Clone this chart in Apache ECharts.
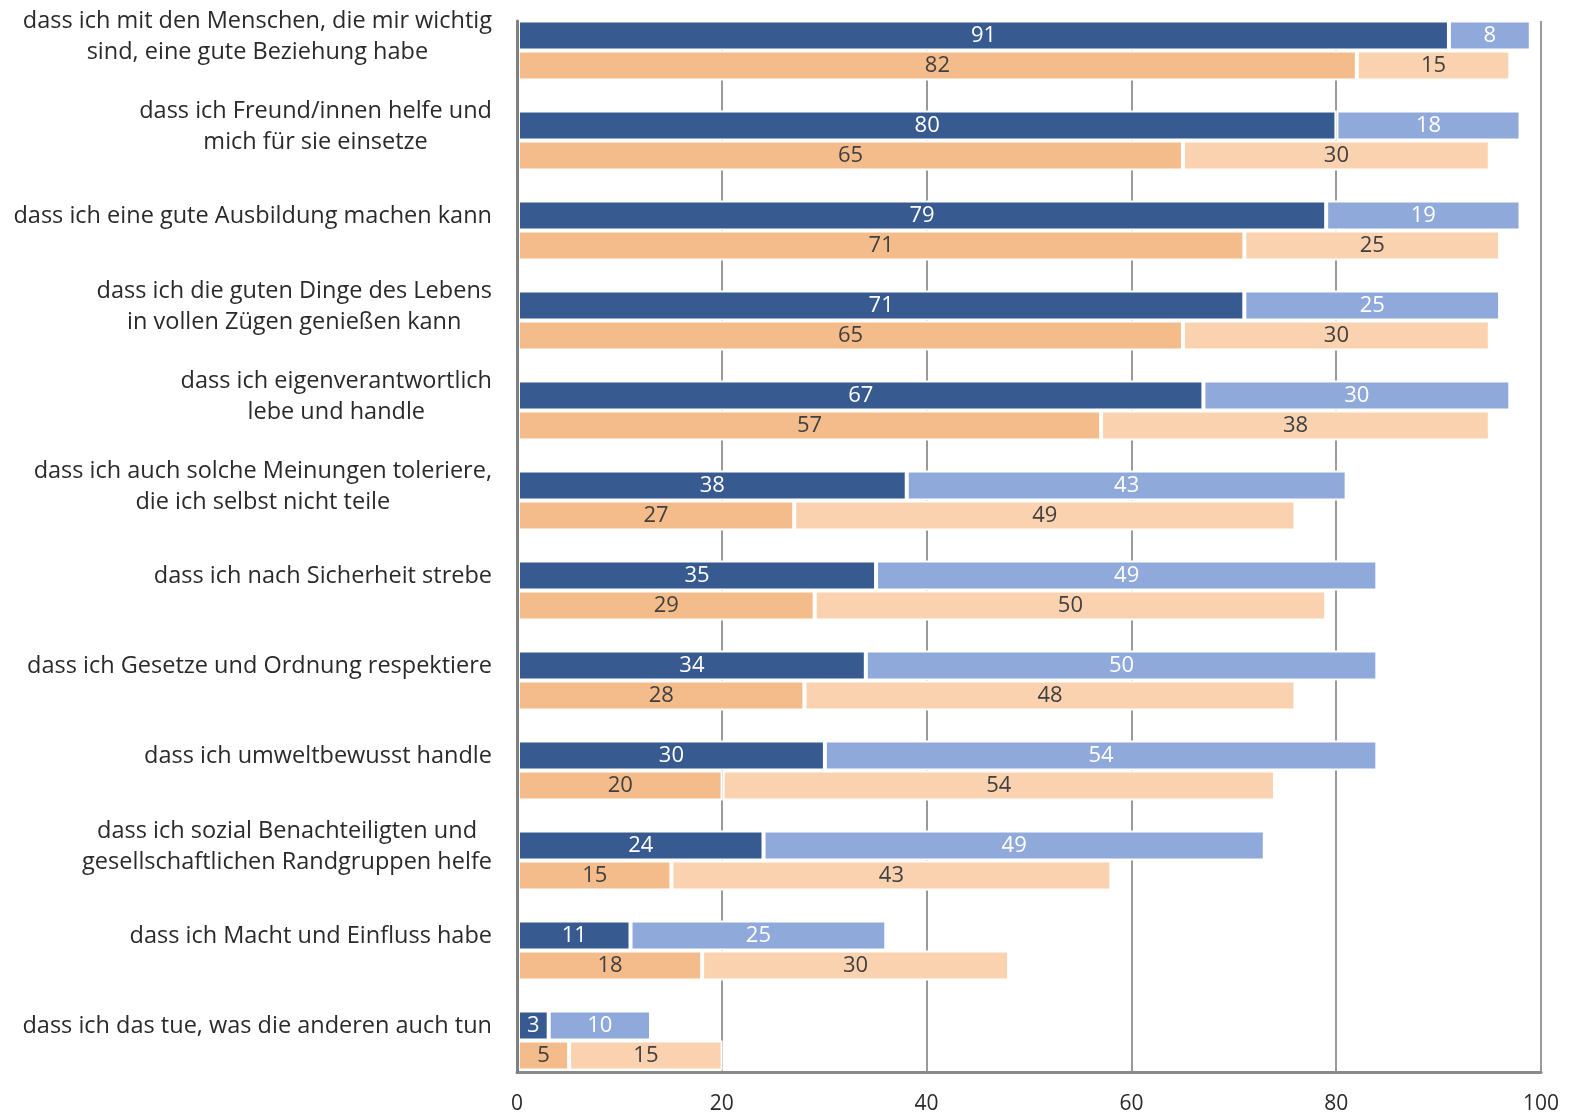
<!DOCTYPE html>
<html>
<head>
<meta charset="utf-8">
<script src="https://cdn.jsdelivr.net/npm/echarts@6/dist/echarts.min.js"></script>
<style>
html,body{margin:0;padding:0;background:#fff;}
#chart{width:1573px;height:1115px;}
</style>
</head>
<body>
<div id="chart"></div>
<script>
var categories = [
  "dass ich mit den Menschen, die mir wichtig\nsind, eine gute Beziehung habe",
  "dass ich Freund/innen helfe und\nmich für sie einsetze",
  "dass ich eine gute Ausbildung machen kann",
  "dass ich die guten Dinge des Lebens\nin vollen Zügen genießen kann",
  "dass ich eigenverantwortlich\nlebe und handle",
  "dass ich auch solche Meinungen toleriere,\ndie ich selbst nicht teile",
  "dass ich nach Sicherheit strebe",
  "dass ich Gesetze und Ordnung respektiere",
  "dass ich umweltbewusst handle",
  "dass ich sozial Benachteiligten und\ngesellschaftlichen Randgruppen helfe",
  "dass ich Macht und Einfluss habe",
  "dass ich das tue, was die anderen auch tun"
];
var blueDark    = [91, 80, 79, 71, 67, 38, 35, 34, 30, 24, 11, 3];
var blueLight   = [8, 18, 19, 25, 30, 43, 49, 50, 54, 49, 25, 10];
var orangeDark  = [82, 65, 71, 65, 57, 27, 29, 28, 20, 15, 18, 5];
var orangeLight = [15, 30, 25, 30, 38, 49, 50, 48, 54, 43, 30, 15];
var xTicks = [0, 20, 40, 60, 80, 100];

var FONT = '"Open Sans", "Noto Sans", sans-serif';
var chart = echarts.init(document.getElementById('chart'));

function barSeries(name, data, stack, color, labelColor) {
  return {
    name: name, type: 'bar', stack: stack,
    xAxisIndex: 0, yAxisIndex: 0,
    data: data,
    barWidth: 30, barGap: '0%',
    itemStyle: { color: color, borderColor: '#ffffff', borderWidth: 2 },
    label: {
      show: true, position: 'inside', color: labelColor,
      fontFamily: FONT, fontSize: 22
    },
    emphasis: { disabled: true },
    z: 2
  };
}

chart.setOption({
  animation: false,
  backgroundColor: '#ffffff',
  grid: [
    { left: 518, right: 32, top: 5.5, bottom: 29.5 },
    { left: 517, right: 32, top: 21, bottom: 43 }
  ],
  xAxis: [
    { type: 'value', gridIndex: 0, min: 0, max: 100, show: false },
    {
      type: 'value', gridIndex: 1, min: 0, max: 100, interval: 20,
      axisLine: { show: true, lineStyle: { color: '#8a8a8a', width: 3 } },
      axisTick: { show: false },
      splitLine: { show: true, lineStyle: { color: '#9a9a9a', width: 2 } },
      axisLabel: {
        color: '#2a2a2a', fontFamily: FONT, fontSize: 21, margin: 22,
        formatter: function (v) { return xTicks.indexOf(v) >= 0 ? String(v) : ''; }
      }
    }
  ],
  yAxis: [
    {
      type: 'category', gridIndex: 0, inverse: true, data: categories,
      axisLine: { show: false }, axisTick: { show: false }, splitLine: { show: false },
      axisLabel: {
        interval: 0, showMinLabel: true, showMaxLabel: true, hideOverlap: false,
        margin: 26, padding: [0, 0, 28, 0],
        color: '#2a2a2a', fontFamily: FONT, fontSize: 23.5, lineHeight: 31,
        formatter: function (v) {
          return v.split('\n').map(function (l) { return '{c|' + l + '}'; }).join('\n');
        },
        rich: { c: { align: 'center', color: '#2a2a2a', fontFamily: FONT, fontSize: 23.5, lineHeight: 31 } }
      }
    },
    {
      type: 'value', gridIndex: 1, min: 0, max: 1, z: 5,
      axisLine: { show: true, lineStyle: { color: '#808080', width: 3 } },
      axisTick: { show: false }, axisLabel: { show: false }, splitLine: { show: false }
    }
  ],
  series: [
    barSeries('blueDark', blueDark, 'b', '#375a91', '#ffffff'),
    barSeries('blueLight', blueLight, 'b', '#8fa9da', '#ffffff'),
    barSeries('orangeDark', orangeDark, 'o', '#f5bc8b', '#404040'),
    barSeries('orangeLight', orangeLight, 'o', '#fbd2b0', '#404040')
  ]
});
</script>
</body>
</html>
